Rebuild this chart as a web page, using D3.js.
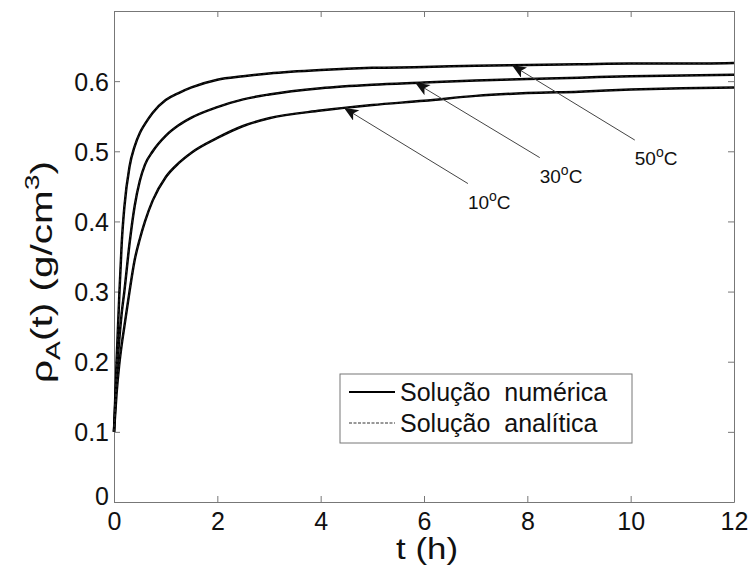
<!DOCTYPE html>
<html>
<head>
<meta charset="utf-8">
<script src="https://d3js.org/d3.v7.min.js"></script>
<style>
  body { margin: 0; background: #fff; }
  text { font-family: "Liberation Sans", Arial, sans-serif; fill: #111; }
</style>
</head>
<body>
<div class="chart-holder"></div>
<script>
// time (h) and density curves
const tHours = [0, 0.05, 0.1, 0.15, 0.2, 0.3, 0.4, 0.5, 0.6, 0.75, 1, 1.25, 1.5, 2, 2.5, 3, 4, 5, 6, 7, 8, 9, 10, 11, 12];
const rho50 = [0.10, 0.20, 0.29, 0.37, 0.42, 0.478, 0.507, 0.526, 0.539, 0.555, 0.573, 0.583, 0.591, 0.602, 0.607, 0.611, 0.616, 0.619, 0.620, 0.622, 0.623, 0.624, 0.625, 0.625, 0.626];
const rho30 = [0.10, 0.18, 0.23, 0.27, 0.30, 0.368, 0.422, 0.458, 0.481, 0.500, 0.522, 0.537, 0.548, 0.563, 0.574, 0.581, 0.590, 0.595, 0.598, 0.601, 0.603, 0.605, 0.607, 0.608, 0.609];
const rho10 = [0.10, 0.155, 0.195, 0.225, 0.25, 0.30, 0.345, 0.375, 0.40, 0.43, 0.463, 0.483, 0.498, 0.519, 0.536, 0.547, 0.558, 0.566, 0.572, 0.579, 0.583, 0.585, 0.588, 0.590, 0.591];

const xTicks = [0, 2, 4, 6, 8, 10, 12];
const yTicks = [0, 0.1, 0.2, 0.3, 0.4, 0.5, 0.6];

// arrow annotations: [label, tip t, tip rho, tail t, tail rho]
const notes = [
  ["50", 7.72, 0.622, 10.08, 0.516],
  ["30", 5.85, 0.597, 8.24, 0.491],
  ["10", 4.47, 0.561, 6.85, 0.454]
];

const legendLabels = ["Solução numérica", "Solução analítica"];

function controller() {
  const width = 749;
  const height = 567;
  const margin = { left: 114, right: 15, top: 11, bottom: 65 };

  const svg = d3.select(".chart-holder")
    .append("svg")
    .attr("width", width)
    .attr("height", height);

  const x = d3.scaleLinear().domain([0, 12]).range([margin.left, width - margin.right]);
  const y = d3.scaleLinear().domain([0, 0.7]).range([height - margin.bottom, margin.top]);

  const axisColor = "#777";

  // axes box with inward ticks
  const bottom = svg.append("g")
    .attr("transform", `translate(0,${y(0)})`)
    .call(d3.axisBottom(x).tickValues(xTicks).tickSizeInner(-6).tickSizeOuter(0).tickPadding(10));
  const left = svg.append("g")
    .attr("transform", `translate(${x(0)},0)`)
    .call(d3.axisLeft(y).tickValues(yTicks).tickSizeInner(-6).tickSizeOuter(0).tickPadding(5)
      .tickFormat(d => d === 0 ? "0" : d3.format(".1f")(d)));
  const top = svg.append("g")
    .attr("transform", `translate(0,${y(0.7)})`)
    .call(d3.axisTop(x).tickValues(xTicks).tickSizeInner(-6).tickSizeOuter(0).tickFormat(""));
  const right = svg.append("g")
    .attr("transform", `translate(${x(12)},0)`)
    .call(d3.axisRight(y).tickValues(yTicks).tickSizeInner(-6).tickSizeOuter(0).tickFormat(""));

  [bottom, left, top, right].forEach(g => {
    g.selectAll("path, line").attr("stroke", axisColor).attr("stroke-width", 1);
    g.selectAll("text").attr("font-size", 25).attr("font-family", "Liberation Sans, Arial, sans-serif").attr("fill", "#111");
  });
  bottom.selectAll("text").attr("dy", "0.71em");
  left.selectAll("text").attr("dy", "0.36em");
  left.selectAll(".tick").filter(d => d === 0).select("text").attr("dy", "0.1em");

  // curves
  const line = d3.line()
    .x((d, i) => x(tHours[i]))
    .y(d => y(d))
    .curve(d3.curveMonotoneX);

  const series = [rho50, rho30, rho10];
  svg.append("g").selectAll("path.num")
    .data(series)
    .join("path")
    .attr("class", "num")
    .attr("d", line)
    .attr("fill", "none")
    .attr("stroke", "#000")
    .attr("stroke-width", 2.5);

  // analytic solution overlaps the numeric one
  svg.append("g").selectAll("path.ana")
    .data(series)
    .join("path")
    .attr("class", "ana")
    .attr("d", line)
    .attr("fill", "none")
    .attr("stroke", "#222")
    .attr("stroke-width", 1)
    .attr("stroke-dasharray", "3,2");

  // arrows
  svg.append("defs").append("marker")
    .attr("id", "head")
    .attr("viewBox", "0 0 12 10")
    .attr("refX", 11)
    .attr("refY", 5)
    .attr("markerUnits", "userSpaceOnUse")
    .attr("markerWidth", 15)
    .attr("markerHeight", 12)
    .attr("orient", "auto")
    .append("path")
    .attr("d", "M0,0 L12,5 L0,10 L3,5 Z")
    .attr("fill", "#111");

  const ann = svg.append("g");
  notes.forEach(([lab, t1, r1, t2, r2]) => {
    ann.append("line")
      .attr("x1", x(t2)).attr("y1", y(r2))
      .attr("x2", x(t1)).attr("y2", y(r1))
      .attr("stroke", "#444")
      .attr("stroke-width", 1)
      .attr("marker-end", "url(#head)");
    const txt = ann.append("text")
      .attr("x", x(t2))
      .attr("y", y(r2) + 25)
      .attr("font-size", 19);
    txt.append("tspan").text(lab);
    txt.append("tspan").attr("font-size", 14).attr("dy", -8).text("o");
    txt.append("tspan").attr("dy", 8).text("C");
  });

  // legend
  const lg = svg.append("g");
  lg.append("rect")
    .attr("x", 340).attr("y", 374)
    .attr("width", 292).attr("height", 69)
    .attr("fill", "#fff")
    .attr("stroke", axisColor);
  legendLabels.forEach((lab, i) => {
    const ly = 392 + i * 31;
    lg.append("line")
      .attr("x1", 349).attr("x2", 395)
      .attr("y1", ly).attr("y2", ly)
      .attr("stroke", i === 0 ? "#000" : "#333")
      .attr("stroke-width", i === 0 ? 2 : 1)
      .attr("stroke-dasharray", i === 0 ? null : "3,1.5");
    lg.append("text")
      .attr("x", 400)
      .attr("y", ly + 9)
      .attr("font-size", 25)
      .attr("word-spacing", 7)
      .text(lab);
  });

  // axis labels
  svg.append("text")
    .attr("x", 427)
    .attr("y", 559)
    .attr("text-anchor", "middle")
    .attr("font-size", 30)
    .attr("textLength", 62)
    .attr("lengthAdjust", "spacingAndGlyphs")
    .text("t (h)");

  const yl = svg.append("text")
    .attr("transform", "translate(52,272) rotate(-90)")
    .attr("text-anchor", "middle")
    .attr("font-size", 30)
    .attr("textLength", 222)
    .attr("lengthAdjust", "spacingAndGlyphs");
  yl.append("tspan").text("ρ");
  yl.append("tspan").attr("font-size", 21).attr("dy", 8).text("A");
  yl.append("tspan").attr("dy", -8).text("(t) (g/cm");
  yl.append("tspan").attr("font-size", 21).attr("dy", -13).text("3");
  yl.append("tspan").attr("dy", 13).text(")");
}

controller();
</script>
</body>
</html>
